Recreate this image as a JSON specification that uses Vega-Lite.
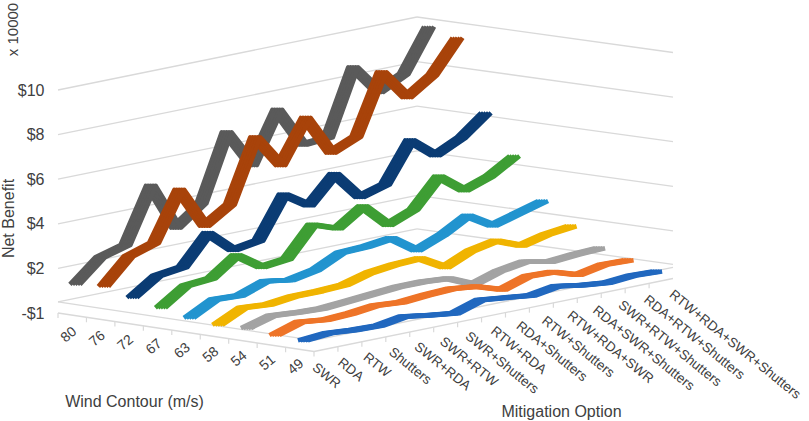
{
  "$schema": "https://vega.github.io/schema/vega-lite/v6.json",
  "width": 809,
  "height": 421,
  "autosize": "none",
  "padding": 0,
  "background": "white",
  "config": {
    "view": {"stroke": null},
    "axis": {"labelFont": "Liberation Sans", "titleFont": "Liberation Sans", "labelColor": "#404040", "titleColor": "#404040", "titleFontWeight": "normal", "grid": false, "ticks": false, "domain": false},
    "text": {"font": "Liberation Sans"},
    "line": {"strokeJoin": "round", "strokeWidth": 4.5}
  },
  "datasets": {
    "net": [
      {"contour": "80", "option": "SWR", "value": 0.76}, {"contour": "80", "option": "RDA", "value": 1.74}, {"contour": "80", "option": "RTW", "value": 2.06}, {"contour": "80", "option": "Shutters", "value": 4.48}, {"contour": "80", "option": "SWR+RDA", "value": 2.37}, {"contour": "80", "option": "SWR+RTW", "value": 3.22}, {"contour": "80", "option": "SWR+Shutters", "value": 6.18}, {"contour": "80", "option": "RTW+RDA", "value": 4.48}, {"contour": "80", "option": "RDA+Shutters", "value": 6.72}, {"contour": "80", "option": "RTW+Shutters", "value": 4.93}, {"contour": "80", "option": "RTW+RDA+SWR", "value": 5.02}, {"contour": "80", "option": "RDA+SWR+Shutters", "value": 7.93}, {"contour": "80", "option": "SWR+RTW+Shutters", "value": 6.59}, {"contour": "80", "option": "RDA+RTW+Shutters", "value": 7.17}, {"contour": "80", "option": "RTW+RDA+SWR+Shutters", "value": 9.05},
      {"contour": "76", "option": "SWR", "value": 0.85}, {"contour": "76", "option": "RDA", "value": 1.97}, {"contour": "76", "option": "RTW", "value": 2.33}, {"contour": "76", "option": "Shutters", "value": 4.48}, {"contour": "76", "option": "SWR+RDA", "value": 2.64}, {"contour": "76", "option": "SWR+RTW", "value": 3.36}, {"contour": "76", "option": "SWR+Shutters", "value": 6.14}, {"contour": "76", "option": "RTW+RDA", "value": 4.66}, {"contour": "76", "option": "RDA+Shutters", "value": 6.54}, {"contour": "76", "option": "RTW+Shutters", "value": 4.75}, {"contour": "76", "option": "RTW+RDA+SWR", "value": 5.24}, {"contour": "76", "option": "RDA+SWR+Shutters", "value": 7.89}, {"contour": "76", "option": "SWR+RTW+Shutters", "value": 6.54}, {"contour": "76", "option": "RDA+RTW+Shutters", "value": 7.3}, {"contour": "76", "option": "RTW+RDA+SWR+Shutters", "value": 8.74},
      {"contour": "72", "option": "SWR", "value": 0.53}, {"contour": "72", "option": "RDA", "value": 1.29}, {"contour": "72", "option": "RTW", "value": 1.43}, {"contour": "72", "option": "Shutters", "value": 2.73}, {"contour": "72", "option": "SWR+RDA", "value": 1.74}, {"contour": "72", "option": "SWR+RTW", "value": 1.92}, {"contour": "72", "option": "SWR+Shutters", "value": 3.76}, {"contour": "72", "option": "RTW+RDA", "value": 3.04}, {"contour": "72", "option": "RDA+Shutters", "value": 4.21}, {"contour": "72", "option": "RTW+Shutters", "value": 2.95}, {"contour": "72", "option": "RTW+RDA+SWR", "value": 3.27}, {"contour": "72", "option": "RDA+SWR+Shutters", "value": 5.02}, {"contour": "72", "option": "SWR+RTW+Shutters", "value": 4.12}, {"contour": "72", "option": "RDA+RTW+Shutters", "value": 4.66}, {"contour": "72", "option": "RTW+RDA+SWR+Shutters", "value": 5.55},
      {"contour": "67", "option": "SWR", "value": 0.26}, {"contour": "67", "option": "RDA", "value": 1.02}, {"contour": "67", "option": "RTW", "value": 1.11}, {"contour": "67", "option": "Shutters", "value": 1.92}, {"contour": "67", "option": "SWR+RDA", "value": 1.16}, {"contour": "67", "option": "SWR+RTW", "value": 1.29}, {"contour": "67", "option": "SWR+Shutters", "value": 2.59}, {"contour": "67", "option": "RTW+RDA", "value": 2.19}, {"contour": "67", "option": "RDA+Shutters", "value": 2.95}, {"contour": "67", "option": "RTW+Shutters", "value": 1.88}, {"contour": "67", "option": "RTW+RDA+SWR", "value": 2.33}, {"contour": "67", "option": "RDA+SWR+Shutters", "value": 3.58}, {"contour": "67", "option": "SWR+RTW+Shutters", "value": 2.73}, {"contour": "67", "option": "RDA+RTW+Shutters", "value": 3.13}, {"contour": "67", "option": "RTW+RDA+SWR+Shutters", "value": 3.8},
      {"contour": "63", "option": "SWR", "value": -0.01}, {"contour": "63", "option": "RDA", "value": 0.58}, {"contour": "63", "option": "RTW", "value": 0.53}, {"contour": "63", "option": "Shutters", "value": 0.93}, {"contour": "63", "option": "SWR+RDA", "value": 0.76}, {"contour": "63", "option": "SWR+RTW", "value": 0.98}, {"contour": "63", "option": "SWR+Shutters", "value": 1.52}, {"contour": "63", "option": "RTW+RDA", "value": 1.56}, {"contour": "63", "option": "RDA+Shutters", "value": 1.7}, {"contour": "63", "option": "RTW+Shutters", "value": 0.93}, {"contour": "63", "option": "RTW+RDA+SWR", "value": 1.38}, {"contour": "63", "option": "RDA+SWR+Shutters", "value": 2.01}, {"contour": "63", "option": "SWR+RTW+Shutters", "value": 1.34}, {"contour": "63", "option": "RDA+RTW+Shutters", "value": 1.65}, {"contour": "63", "option": "RTW+RDA+SWR+Shutters", "value": 1.97},
      {"contour": "58", "option": "SWR", "value": -0.14}, {"contour": "58", "option": "RDA", "value": 0.4}, {"contour": "58", "option": "RTW", "value": 0.31}, {"contour": "58", "option": "Shutters", "value": 0.44}, {"contour": "58", "option": "SWR+RDA", "value": 0.44}, {"contour": "58", "option": "SWR+RTW", "value": 0.49}, {"contour": "58", "option": "SWR+Shutters", "value": 0.8}, {"contour": "58", "option": "RTW+RDA", "value": 0.93}, {"contour": "58", "option": "RDA+Shutters", "value": 0.98}, {"contour": "58", "option": "RTW+Shutters", "value": 0.35}, {"contour": "58", "option": "RTW+RDA+SWR", "value": 0.85}, {"contour": "58", "option": "RDA+SWR+Shutters", "value": 1.07}, {"contour": "58", "option": "SWR+RTW+Shutters", "value": 0.62}, {"contour": "58", "option": "RDA+RTW+Shutters", "value": 0.89}, {"contour": "58", "option": "RTW+RDA+SWR+Shutters", "value": 1.02},
      {"contour": "54", "option": "SWR", "value": -0.1}, {"contour": "54", "option": "RDA", "value": 0.22}, {"contour": "54", "option": "RTW", "value": 0.13}, {"contour": "54", "option": "Shutters", "value": 0.08}, {"contour": "54", "option": "SWR+RDA", "value": 0.17}, {"contour": "54", "option": "SWR+RTW", "value": 0.26}, {"contour": "54", "option": "SWR+Shutters", "value": 0.35}, {"contour": "54", "option": "RTW+RDA", "value": 0.35}, {"contour": "54", "option": "RDA+Shutters", "value": 0.26}, {"contour": "54", "option": "RTW+Shutters", "value": -0.23}, {"contour": "54", "option": "RTW+RDA+SWR", "value": 0.13}, {"contour": "54", "option": "RDA+SWR+Shutters", "value": 0.31}, {"contour": "54", "option": "SWR+RTW+Shutters", "value": 0.08}, {"contour": "54", "option": "RDA+RTW+Shutters", "value": 0.17}, {"contour": "54", "option": "RTW+RDA+SWR+Shutters", "value": 0.22},
      {"contour": "51", "option": "SWR", "value": -0.23}, {"contour": "51", "option": "RDA", "value": 0.13}, {"contour": "51", "option": "RTW", "value": -0.01}, {"contour": "51", "option": "Shutters", "value": 0.04}, {"contour": "51", "option": "SWR+RDA", "value": 0.17}, {"contour": "51", "option": "SWR+RTW", "value": 0.08}, {"contour": "51", "option": "SWR+Shutters", "value": 0.17}, {"contour": "51", "option": "RTW+RDA", "value": 0.22}, {"contour": "51", "option": "RDA+Shutters", "value": 0.08}, {"contour": "51", "option": "RTW+Shutters", "value": -0.28}, {"contour": "51", "option": "RTW+RDA+SWR", "value": 0.08}, {"contour": "51", "option": "RDA+SWR+Shutters", "value": 0.04}, {"contour": "51", "option": "SWR+RTW+Shutters", "value": -0.32}, {"contour": "51", "option": "RDA+RTW+Shutters", "value": -0.1}, {"contour": "51", "option": "RTW+RDA+SWR+Shutters", "value": -0.14},
      {"contour": "49", "option": "SWR", "value": -0.28}, {"contour": "49", "option": "RDA", "value": -0.19}, {"contour": "49", "option": "RTW", "value": -0.28}, {"contour": "49", "option": "Shutters", "value": -0.32}, {"contour": "49", "option": "SWR+RDA", "value": -0.14}, {"contour": "49", "option": "SWR+RTW", "value": -0.32}, {"contour": "49", "option": "SWR+Shutters", "value": -0.46}, {"contour": "49", "option": "RTW+RDA", "value": -0.1}, {"contour": "49", "option": "RDA+Shutters", "value": -0.23}, {"contour": "49", "option": "RTW+Shutters", "value": -0.37}, {"contour": "49", "option": "RTW+RDA+SWR", "value": -0.19}, {"contour": "49", "option": "RDA+SWR+Shutters", "value": -0.37}, {"contour": "49", "option": "SWR+RTW+Shutters", "value": -0.5}, {"contour": "49", "option": "RDA+RTW+Shutters", "value": -0.41}, {"contour": "49", "option": "RTW+RDA+SWR+Shutters", "value": -0.46}
    ],
    "backwall": [
      {"level": 0, "option": "SWR"}, {"level": 0, "option": "RTW+RDA+SWR+Shutters"},
      {"level": 1.5, "option": "SWR"}, {"level": 1.5, "option": "RTW+RDA+SWR+Shutters"},
      {"level": 3.5, "option": "SWR"}, {"level": 3.5, "option": "RTW+RDA+SWR+Shutters"},
      {"level": 5.5, "option": "SWR"}, {"level": 5.5, "option": "RTW+RDA+SWR+Shutters"},
      {"level": 7.5, "option": "SWR"}, {"level": 7.5, "option": "RTW+RDA+SWR+Shutters"},
      {"level": 9.5, "option": "SWR"}, {"level": 9.5, "option": "RTW+RDA+SWR+Shutters"}
    ],
    "sidewall": [
      {"level": 0, "contour": "80"}, {"level": 0, "contour": "49"},
      {"level": 1.5, "contour": "80"}, {"level": 1.5, "contour": "49"},
      {"level": 3.5, "contour": "80"}, {"level": 3.5, "contour": "49"},
      {"level": 5.5, "contour": "80"}, {"level": 5.5, "contour": "49"},
      {"level": 7.5, "contour": "80"}, {"level": 7.5, "contour": "49"},
      {"level": 9.5, "contour": "80"}, {"level": 9.5, "contour": "49"}
    ],
    "floorleft": [
      {"level": 0, "contour": "80"}, {"level": 0, "contour": "49"},
      {"level": -0.5, "contour": "80"}, {"level": -0.5, "contour": "49"}
    ],
    "floorfront": [
      {"level": 0, "option": "SWR"}, {"level": 0, "option": "RTW+RDA+SWR+Shutters"},
      {"level": -0.5, "option": "SWR"}, {"level": -0.5, "option": "RTW+RDA+SWR+Shutters"}
    ],
    "ticklevels": [
      {"level": -0.5}, {"level": 1.5}, {"level": 3.5}, {"level": 5.5}, {"level": 7.5}, {"level": 9.5}
    ]
  },
  "data": {"name": "net"},
  "layer": [
    {
      "data": {"name": "backwall"},
      "mark": {"type": "line", "color": "#d9d9d9", "strokeWidth": 1.3},
      "encoding": {
        "x": {"field": "option", "type": "nominal", "sort": null, "axis": null,
              "scale": {"type": "point", "domain": ["SWR", "RTW+RDA+SWR+Shutters"], "range": [58, 417], "padding": 0}},
        "y": {"field": "option", "type": "nominal", "sort": null, "axis": null,
              "scale": {"type": "point", "domain": ["SWR", "RTW+RDA+SWR+Shutters"], "range": [313, 240], "padding": 0}},
        "yOffset": {"field": "level", "type": "quantitative",
                    "scale": {"domain": [-0.5, 9.5], "range": [0, -223], "zero": false, "nice": false}},
        "detail": {"field": "level", "type": "nominal"}
      }
    },
    {
      "data": {"name": "sidewall"},
      "mark": {"type": "line", "color": "#d9d9d9", "strokeWidth": 1.3},
      "encoding": {
        "x": {"field": "contour", "type": "nominal", "sort": null, "axis": null,
              "scale": {"type": "point", "domain": ["80", "49"], "range": [417, 673], "padding": 0}},
        "y": {"field": "contour", "type": "nominal", "sort": null, "axis": null,
              "scale": {"type": "point", "domain": ["80", "49"], "range": [240, 275.5], "padding": 0}},
        "yOffset": {"field": "level", "type": "quantitative",
                    "scale": {"domain": [-0.5, 9.5], "range": [0, -223], "zero": false, "nice": false}},
        "detail": {"field": "level", "type": "nominal"}
      }
    },
    {
      "data": {"name": "floorleft"},
      "mark": {"type": "line", "color": "#d9d9d9", "strokeWidth": 1.3},
      "encoding": {
        "x": {"field": "contour", "type": "nominal", "sort": null, "axis": null,
              "scale": {"type": "point", "domain": ["80", "49"], "range": [58, 314], "padding": 0}},
        "y": {"field": "contour", "type": "nominal", "sort": null, "axis": null,
              "scale": {"type": "point", "domain": ["80", "49"], "range": [313, 351.5], "padding": 0}},
        "yOffset": {"field": "level", "type": "quantitative",
                    "scale": {"domain": [-0.5, 9.5], "range": [0, -223], "zero": false, "nice": false}},
        "detail": {"field": "level", "type": "nominal"}
      }
    },
    {
      "data": {"name": "floorfront"},
      "mark": {"type": "line", "color": "#d9d9d9", "strokeWidth": 1.3},
      "encoding": {
        "x": {"field": "option", "type": "nominal", "sort": null, "axis": null,
              "scale": {"type": "point", "domain": ["SWR", "RTW+RDA+SWR+Shutters"], "range": [314, 673], "padding": 0}},
        "y": {"field": "option", "type": "nominal", "sort": null, "axis": null,
              "scale": {"type": "point", "domain": ["SWR", "RTW+RDA+SWR+Shutters"], "range": [351.5, 278.5], "padding": 0}},
        "yOffset": {"field": "level", "type": "quantitative",
                    "scale": {"domain": [-0.5, 9.5], "range": [0, -223], "zero": false, "nice": false}},
        "detail": {"field": "level", "type": "nominal"}
      }
    },
    {
      "transform": [{"filter": "datum.option === 'SWR'"}],
      "mark": {"type": "rule", "color": "#d9d9d9", "strokeWidth": 1.2, "y2Offset": 5},
      "encoding": {
        "x": {"field": "contour", "type": "nominal", "sort": null, "axis": null,
              "scale": {"type": "point", "domain": ["80", "76", "72", "67", "63", "58", "54", "51", "49"], "range": [58, 285.6], "padding": 0}},
        "y": {"field": "contour", "type": "nominal", "sort": null, "axis": null,
              "scale": {"type": "point", "domain": ["80", "76", "72", "67", "63", "58", "54", "51", "49"], "range": [313, 347.2], "padding": 0}},
        "y2": {"field": "contour"}
      }
    },
    {
      "transform": [{"filter": "datum.contour === '80'"}],
      "mark": {"type": "rule", "color": "#d9d9d9", "strokeWidth": 1.2, "y2Offset": 5},
      "encoding": {
        "x": {"field": "option", "type": "nominal", "sort": null, "axis": null,
              "scale": {"type": "point", "domain": ["SWR", "RDA", "RTW", "Shutters", "SWR+RDA", "SWR+RTW", "SWR+Shutters", "RTW+RDA", "RDA+Shutters", "RTW+Shutters", "RTW+RDA+SWR", "RDA+SWR+Shutters", "SWR+RTW+Shutters", "RDA+RTW+Shutters", "RTW+RDA+SWR+Shutters"], "range": [314, 649.1], "padding": 0}},
        "y": {"field": "option", "type": "nominal", "sort": null, "axis": null,
              "scale": {"type": "point", "domain": ["SWR", "RDA", "RTW", "Shutters", "SWR+RDA", "SWR+RTW", "SWR+Shutters", "RTW+RDA", "RDA+Shutters", "RTW+Shutters", "RTW+RDA+SWR", "RDA+SWR+Shutters", "SWR+RTW+Shutters", "RDA+RTW+Shutters", "RTW+RDA+SWR+Shutters"], "range": [351.5, 283.3], "padding": 0}},
        "y2": {"field": "option"}
      }
    },
    {
      "data": {"name": "ticklevels"},
      "mark": {"type": "point", "opacity": 0},
      "encoding": {
        "y": {"field": "level", "type": "quantitative",
              "scale": {"domain": [-0.5, 9.5], "range": [313, 90], "zero": false, "nice": false},
              "axis": {"orient": "left", "offset": -58, "values": [-0.5, 1.5, 3.5, 5.5, 7.5, 9.5],
                       "labelExpr": "datum.value < 0 ? '-$1' : '$' + (datum.value + 0.5)",
                       "labelFontSize": 16, "labelPadding": 14,
                       "title": "Net Benefit", "titleFontSize": 16, "titleX": -49.5, "titleY": 218,
                       "titleAngle": 270, "titleAlign": "center", "titleBaseline": "middle"}}
      }
    },
    {
      "transform": [{"filter": "datum.contour === '80'"}],
      "encoding": {
        "x": {"field": "option", "type": "nominal", "sort": null, "axis": null,
              "scale": {"type": "point", "domain": ["SWR", "RDA", "RTW", "Shutters", "SWR+RDA", "SWR+RTW", "SWR+Shutters", "RTW+RDA", "RDA+Shutters", "RTW+Shutters", "RTW+RDA+SWR", "RDA+SWR+Shutters", "SWR+RTW+Shutters", "RDA+RTW+Shutters", "RTW+RDA+SWR+Shutters"], "range": [74.9, 429.1], "padding": 0}},
        "y": {"field": "option", "type": "nominal", "sort": null, "axis": null,
              "scale": {"type": "point", "domain": ["SWR", "RDA", "RTW", "Shutters", "SWR+RDA", "SWR+RTW", "SWR+Shutters", "RTW+RDA", "RDA+Shutters", "RTW+Shutters", "RTW+RDA+SWR", "RDA+SWR+Shutters", "SWR+RTW+Shutters", "RDA+RTW+Shutters", "RTW+RDA+SWR+Shutters"], "range": [312.45, 239.65], "padding": 0}},
        "yOffset": {"field": "value", "type": "quantitative",
                    "scale": {"domain": [-0.5, 9.5], "range": [0, -223], "zero": false, "nice": false}}
      },
      "layer": [
        {"mark": {"type": "line", "color": "#5a5a5a", "xOffset": -5}},
        {"mark": {"type": "line", "color": "#5a5a5a", "xOffset": -2.5}},
        {"mark": {"type": "line", "color": "#5a5a5a", "xOffset": 0}},
        {"mark": {"type": "line", "color": "#5a5a5a", "xOffset": 2.5}},
        {"mark": {"type": "line", "color": "#5a5a5a", "xOffset": 5}}
      ]
    },
    {
      "transform": [{"filter": "datum.contour === '76'"}],
      "encoding": {
        "x": {"field": "option", "type": "nominal", "sort": null, "axis": null,
              "scale": {"type": "point", "domain": ["SWR", "RDA", "RTW", "Shutters", "SWR+RDA", "SWR+RTW", "SWR+Shutters", "RTW+RDA", "RDA+Shutters", "RTW+Shutters", "RTW+RDA+SWR", "RDA+SWR+Shutters", "SWR+RTW+Shutters", "RDA+RTW+Shutters", "RTW+RDA+SWR+Shutters"], "range": [103.4, 457.6], "padding": 0}},
        "y": {"field": "option", "type": "nominal", "sort": null, "axis": null,
              "scale": {"type": "point", "domain": ["SWR", "RDA", "RTW", "Shutters", "SWR+RDA", "SWR+RTW", "SWR+Shutters", "RTW+RDA", "RDA+Shutters", "RTW+Shutters", "RTW+RDA+SWR", "RDA+SWR+Shutters", "SWR+RTW+Shutters", "RDA+RTW+Shutters", "RTW+RDA+SWR+Shutters"], "range": [316.55, 243.75], "padding": 0}},
        "yOffset": {"field": "value", "type": "quantitative",
                    "scale": {"domain": [-0.5, 9.5], "range": [0, -223], "zero": false, "nice": false}}
      },
      "layer": [
        {"mark": {"type": "line", "color": "#a8430a", "xOffset": -5}},
        {"mark": {"type": "line", "color": "#a8430a", "xOffset": -2.5}},
        {"mark": {"type": "line", "color": "#a8430a", "xOffset": 0}},
        {"mark": {"type": "line", "color": "#a8430a", "xOffset": 2.5}},
        {"mark": {"type": "line", "color": "#a8430a", "xOffset": 5}}
      ]
    },
    {
      "transform": [{"filter": "datum.contour === '72'"}],
      "encoding": {
        "x": {"field": "option", "type": "nominal", "sort": null, "axis": null,
              "scale": {"type": "point", "domain": ["SWR", "RDA", "RTW", "Shutters", "SWR+RDA", "SWR+RTW", "SWR+Shutters", "RTW+RDA", "RDA+Shutters", "RTW+Shutters", "RTW+RDA+SWR", "RDA+SWR+Shutters", "SWR+RTW+Shutters", "RDA+RTW+Shutters", "RTW+RDA+SWR+Shutters"], "range": [131.9, 486.1], "padding": 0}},
        "y": {"field": "option", "type": "nominal", "sort": null, "axis": null,
              "scale": {"type": "point", "domain": ["SWR", "RDA", "RTW", "Shutters", "SWR+RDA", "SWR+RTW", "SWR+Shutters", "RTW+RDA", "RDA+Shutters", "RTW+Shutters", "RTW+RDA+SWR", "RDA+SWR+Shutters", "SWR+RTW+Shutters", "RDA+RTW+Shutters", "RTW+RDA+SWR+Shutters"], "range": [320.65, 247.85], "padding": 0}},
        "yOffset": {"field": "value", "type": "quantitative",
                    "scale": {"domain": [-0.5, 9.5], "range": [0, -223], "zero": false, "nice": false}}
      },
      "layer": [
        {"mark": {"type": "line", "color": "#0b3c74", "xOffset": -5}},
        {"mark": {"type": "line", "color": "#0b3c74", "xOffset": -2.5}},
        {"mark": {"type": "line", "color": "#0b3c74", "xOffset": 0}},
        {"mark": {"type": "line", "color": "#0b3c74", "xOffset": 2.5}},
        {"mark": {"type": "line", "color": "#0b3c74", "xOffset": 5}}
      ]
    },
    {
      "transform": [{"filter": "datum.contour === '67'"}],
      "encoding": {
        "x": {"field": "option", "type": "nominal", "sort": null, "axis": null,
              "scale": {"type": "point", "domain": ["SWR", "RDA", "RTW", "Shutters", "SWR+RDA", "SWR+RTW", "SWR+Shutters", "RTW+RDA", "RDA+Shutters", "RTW+Shutters", "RTW+RDA+SWR", "RDA+SWR+Shutters", "SWR+RTW+Shutters", "RDA+RTW+Shutters", "RTW+RDA+SWR+Shutters"], "range": [160.4, 514.6], "padding": 0}},
        "y": {"field": "option", "type": "nominal", "sort": null, "axis": null,
              "scale": {"type": "point", "domain": ["SWR", "RDA", "RTW", "Shutters", "SWR+RDA", "SWR+RTW", "SWR+Shutters", "RTW+RDA", "RDA+Shutters", "RTW+Shutters", "RTW+RDA+SWR", "RDA+SWR+Shutters", "SWR+RTW+Shutters", "RDA+RTW+Shutters", "RTW+RDA+SWR+Shutters"], "range": [324.75, 251.95], "padding": 0}},
        "yOffset": {"field": "value", "type": "quantitative",
                    "scale": {"domain": [-0.5, 9.5], "range": [0, -223], "zero": false, "nice": false}}
      },
      "layer": [
        {"mark": {"type": "line", "color": "#3e9e34", "xOffset": -5}},
        {"mark": {"type": "line", "color": "#3e9e34", "xOffset": -2.5}},
        {"mark": {"type": "line", "color": "#3e9e34", "xOffset": 0}},
        {"mark": {"type": "line", "color": "#3e9e34", "xOffset": 2.5}},
        {"mark": {"type": "line", "color": "#3e9e34", "xOffset": 5}}
      ]
    },
    {
      "transform": [{"filter": "datum.contour === '63'"}],
      "encoding": {
        "x": {"field": "option", "type": "nominal", "sort": null, "axis": null,
              "scale": {"type": "point", "domain": ["SWR", "RDA", "RTW", "Shutters", "SWR+RDA", "SWR+RTW", "SWR+Shutters", "RTW+RDA", "RDA+Shutters", "RTW+Shutters", "RTW+RDA+SWR", "RDA+SWR+Shutters", "SWR+RTW+Shutters", "RDA+RTW+Shutters", "RTW+RDA+SWR+Shutters"], "range": [188.9, 543.1], "padding": 0}},
        "y": {"field": "option", "type": "nominal", "sort": null, "axis": null,
              "scale": {"type": "point", "domain": ["SWR", "RDA", "RTW", "Shutters", "SWR+RDA", "SWR+RTW", "SWR+Shutters", "RTW+RDA", "RDA+Shutters", "RTW+Shutters", "RTW+RDA+SWR", "RDA+SWR+Shutters", "SWR+RTW+Shutters", "RDA+RTW+Shutters", "RTW+RDA+SWR+Shutters"], "range": [328.85, 256.05], "padding": 0}},
        "yOffset": {"field": "value", "type": "quantitative",
                    "scale": {"domain": [-0.5, 9.5], "range": [0, -223], "zero": false, "nice": false}}
      },
      "layer": [
        {"mark": {"type": "line", "color": "#2294cf", "xOffset": -5}},
        {"mark": {"type": "line", "color": "#2294cf", "xOffset": -2.5}},
        {"mark": {"type": "line", "color": "#2294cf", "xOffset": 0}},
        {"mark": {"type": "line", "color": "#2294cf", "xOffset": 2.5}},
        {"mark": {"type": "line", "color": "#2294cf", "xOffset": 5}}
      ]
    },
    {
      "transform": [{"filter": "datum.contour === '58'"}],
      "encoding": {
        "x": {"field": "option", "type": "nominal", "sort": null, "axis": null,
              "scale": {"type": "point", "domain": ["SWR", "RDA", "RTW", "Shutters", "SWR+RDA", "SWR+RTW", "SWR+Shutters", "RTW+RDA", "RDA+Shutters", "RTW+Shutters", "RTW+RDA+SWR", "RDA+SWR+Shutters", "SWR+RTW+Shutters", "RDA+RTW+Shutters", "RTW+RDA+SWR+Shutters"], "range": [217.4, 571.6], "padding": 0}},
        "y": {"field": "option", "type": "nominal", "sort": null, "axis": null,
              "scale": {"type": "point", "domain": ["SWR", "RDA", "RTW", "Shutters", "SWR+RDA", "SWR+RTW", "SWR+Shutters", "RTW+RDA", "RDA+Shutters", "RTW+Shutters", "RTW+RDA+SWR", "RDA+SWR+Shutters", "SWR+RTW+Shutters", "RDA+RTW+Shutters", "RTW+RDA+SWR+Shutters"], "range": [332.95, 260.15], "padding": 0}},
        "yOffset": {"field": "value", "type": "quantitative",
                    "scale": {"domain": [-0.5, 9.5], "range": [0, -223], "zero": false, "nice": false}}
      },
      "layer": [
        {"mark": {"type": "line", "color": "#f0b400", "xOffset": -5}},
        {"mark": {"type": "line", "color": "#f0b400", "xOffset": -2.5}},
        {"mark": {"type": "line", "color": "#f0b400", "xOffset": 0}},
        {"mark": {"type": "line", "color": "#f0b400", "xOffset": 2.5}},
        {"mark": {"type": "line", "color": "#f0b400", "xOffset": 5}}
      ]
    },
    {
      "transform": [{"filter": "datum.contour === '54'"}],
      "encoding": {
        "x": {"field": "option", "type": "nominal", "sort": null, "axis": null,
              "scale": {"type": "point", "domain": ["SWR", "RDA", "RTW", "Shutters", "SWR+RDA", "SWR+RTW", "SWR+Shutters", "RTW+RDA", "RDA+Shutters", "RTW+Shutters", "RTW+RDA+SWR", "RDA+SWR+Shutters", "SWR+RTW+Shutters", "RDA+RTW+Shutters", "RTW+RDA+SWR+Shutters"], "range": [245.9, 600.1], "padding": 0}},
        "y": {"field": "option", "type": "nominal", "sort": null, "axis": null,
              "scale": {"type": "point", "domain": ["SWR", "RDA", "RTW", "Shutters", "SWR+RDA", "SWR+RTW", "SWR+Shutters", "RTW+RDA", "RDA+Shutters", "RTW+Shutters", "RTW+RDA+SWR", "RDA+SWR+Shutters", "SWR+RTW+Shutters", "RDA+RTW+Shutters", "RTW+RDA+SWR+Shutters"], "range": [337.05, 264.25], "padding": 0}},
        "yOffset": {"field": "value", "type": "quantitative",
                    "scale": {"domain": [-0.5, 9.5], "range": [0, -223], "zero": false, "nice": false}}
      },
      "layer": [
        {"mark": {"type": "line", "color": "#a3a3a3", "xOffset": -5}},
        {"mark": {"type": "line", "color": "#a3a3a3", "xOffset": -2.5}},
        {"mark": {"type": "line", "color": "#a3a3a3", "xOffset": 0}},
        {"mark": {"type": "line", "color": "#a3a3a3", "xOffset": 2.5}},
        {"mark": {"type": "line", "color": "#a3a3a3", "xOffset": 5}}
      ]
    },
    {
      "transform": [{"filter": "datum.contour === '51'"}],
      "encoding": {
        "x": {"field": "option", "type": "nominal", "sort": null, "axis": null,
              "scale": {"type": "point", "domain": ["SWR", "RDA", "RTW", "Shutters", "SWR+RDA", "SWR+RTW", "SWR+Shutters", "RTW+RDA", "RDA+Shutters", "RTW+Shutters", "RTW+RDA+SWR", "RDA+SWR+Shutters", "SWR+RTW+Shutters", "RDA+RTW+Shutters", "RTW+RDA+SWR+Shutters"], "range": [274.4, 628.6], "padding": 0}},
        "y": {"field": "option", "type": "nominal", "sort": null, "axis": null,
              "scale": {"type": "point", "domain": ["SWR", "RDA", "RTW", "Shutters", "SWR+RDA", "SWR+RTW", "SWR+Shutters", "RTW+RDA", "RDA+Shutters", "RTW+Shutters", "RTW+RDA+SWR", "RDA+SWR+Shutters", "SWR+RTW+Shutters", "RDA+RTW+Shutters", "RTW+RDA+SWR+Shutters"], "range": [341.15, 268.35], "padding": 0}},
        "yOffset": {"field": "value", "type": "quantitative",
                    "scale": {"domain": [-0.5, 9.5], "range": [0, -223], "zero": false, "nice": false}}
      },
      "layer": [
        {"mark": {"type": "line", "color": "#ee7428", "xOffset": -5}},
        {"mark": {"type": "line", "color": "#ee7428", "xOffset": -2.5}},
        {"mark": {"type": "line", "color": "#ee7428", "xOffset": 0}},
        {"mark": {"type": "line", "color": "#ee7428", "xOffset": 2.5}},
        {"mark": {"type": "line", "color": "#ee7428", "xOffset": 5}}
      ]
    },
    {
      "transform": [{"filter": "datum.contour === '49'"}],
      "encoding": {
        "x": {"field": "option", "type": "nominal", "sort": null, "axis": null,
              "scale": {"type": "point", "domain": ["SWR", "RDA", "RTW", "Shutters", "SWR+RDA", "SWR+RTW", "SWR+Shutters", "RTW+RDA", "RDA+Shutters", "RTW+Shutters", "RTW+RDA+SWR", "RDA+SWR+Shutters", "SWR+RTW+Shutters", "RDA+RTW+Shutters", "RTW+RDA+SWR+Shutters"], "range": [302.9, 657.1], "padding": 0}},
        "y": {"field": "option", "type": "nominal", "sort": null, "axis": null,
              "scale": {"type": "point", "domain": ["SWR", "RDA", "RTW", "Shutters", "SWR+RDA", "SWR+RTW", "SWR+Shutters", "RTW+RDA", "RDA+Shutters", "RTW+Shutters", "RTW+RDA+SWR", "RDA+SWR+Shutters", "SWR+RTW+Shutters", "RDA+RTW+Shutters", "RTW+RDA+SWR+Shutters"], "range": [345.25, 272.45], "padding": 0}},
        "yOffset": {"field": "value", "type": "quantitative",
                    "scale": {"domain": [-0.5, 9.5], "range": [0, -223], "zero": false, "nice": false}}
      },
      "layer": [
        {"mark": {"type": "line", "color": "#2168bf", "xOffset": -5}},
        {"mark": {"type": "line", "color": "#2168bf", "xOffset": -2.5}},
        {"mark": {"type": "line", "color": "#2168bf", "xOffset": 0}},
        {"mark": {"type": "line", "color": "#2168bf", "xOffset": 2.5}},
        {"mark": {"type": "line", "color": "#2168bf", "xOffset": 5}}
      ]
    },
    {
      "transform": [{"filter": "datum.option === 'SWR'"}],
      "mark": {"type": "text", "angle": 320, "fontSize": 14, "color": "#404040", "align": "center", "baseline": "middle"},
      "encoding": {
        "x": {"field": "contour", "type": "nominal", "sort": null,
              "scale": {"type": "point", "domain": ["80", "76", "72", "67", "63", "58", "54", "51", "49"], "range": [69, 296], "padding": 0},
              "axis": {"orient": "bottom", "labels": false, "title": "Wind Contour (m/s)", "titleFontSize": 16,
                       "titleX": 134, "titleY": -20, "titleAlign": "center", "titleBaseline": "middle"}},
        "y": {"field": "contour", "type": "nominal", "sort": null, "axis": null,
              "scale": {"type": "point", "domain": ["80", "76", "72", "67", "63", "58", "54", "51", "49"], "range": [335, 367], "padding": 0}},
        "text": {"field": "contour"}
      }
    },
    {
      "transform": [{"filter": "datum.contour === '80'"}],
      "mark": {"type": "text", "angle": 39, "fontSize": 13.5, "color": "#404040", "align": "left", "baseline": "middle"},
      "encoding": {
        "x": {"field": "option", "type": "nominal", "sort": null,
              "scale": {"type": "point", "domain": ["SWR", "RDA", "RTW", "Shutters", "SWR+RDA", "SWR+RTW", "SWR+Shutters", "RTW+RDA", "RDA+Shutters", "RTW+Shutters", "RTW+RDA+SWR", "RDA+SWR+Shutters", "SWR+RTW+Shutters", "RDA+RTW+Shutters", "RTW+RDA+SWR+Shutters"], "range": [314, 671], "padding": 0},
              "axis": {"orient": "bottom", "labels": false, "title": "Mitigation Option", "titleFontSize": 16,
                       "titleX": 561, "titleY": -10, "titleAlign": "center", "titleBaseline": "middle"}},
        "y": {"field": "option", "type": "nominal", "sort": null,
              "scale": {"type": "point", "domain": ["SWR", "RDA", "RTW", "Shutters", "SWR+RDA", "SWR+RTW", "SWR+Shutters", "RTW+RDA", "RDA+Shutters", "RTW+Shutters", "RTW+RDA+SWR", "RDA+SWR+Shutters", "SWR+RTW+Shutters", "RDA+RTW+Shutters", "RTW+RDA+SWR+Shutters"], "range": [366, 293], "padding": 0},
              "axis": {"orient": "left", "offset": 0, "labels": false, "title": "x 10000", "titleFontSize": 15,
                       "titleX": 12, "titleY": 29, "titleAngle": 270, "titleAlign": "center", "titleBaseline": "middle"}},
        "text": {"field": "option"}
      }
    }
  ],
  "resolve": {
    "scale": {"x": "independent", "y": "independent", "yOffset": "independent"},
    "axis": {"x": "independent", "y": "independent"}
  }
}
